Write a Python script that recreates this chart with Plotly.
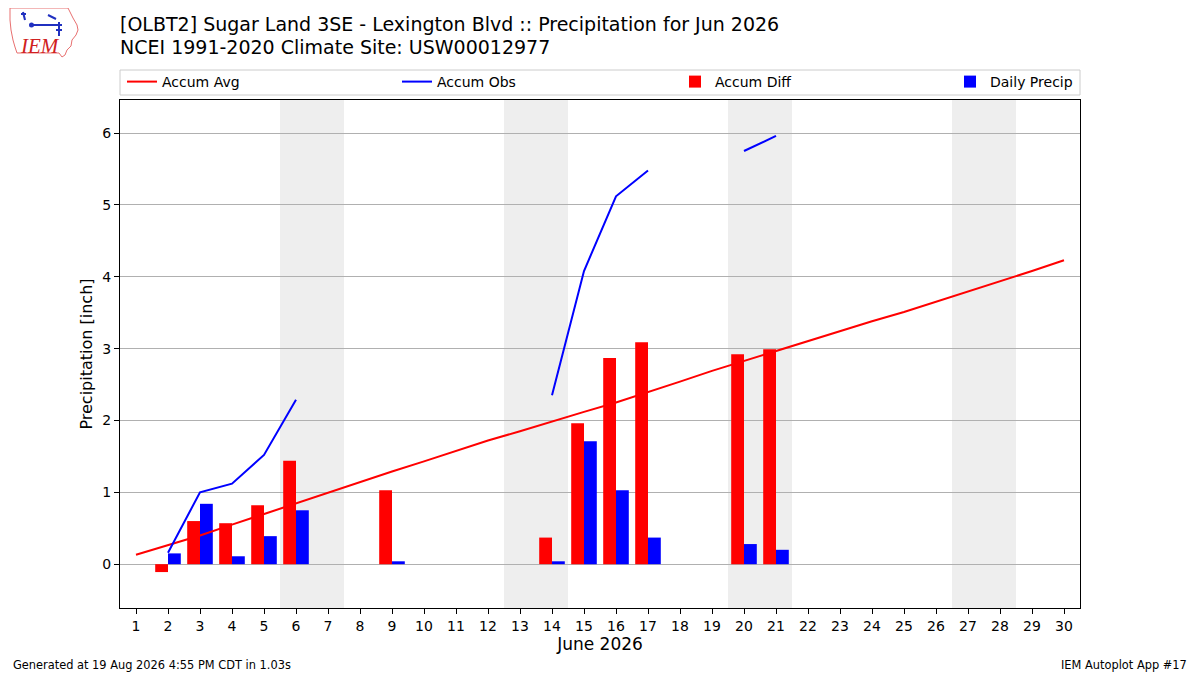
import plotly.graph_objects as go

# June 2026 daily data (inches), None = missing
days = list(range(1, 31))
accum_avg = [0.13, 0.26, 0.40, 0.55, 0.70, 0.85, 0.99, 1.14, 1.29, 1.43,
             1.58, 1.72, 1.85, 1.99, 2.12, 2.25, 2.39, 2.54, 2.69, 2.83,
             2.97, 3.11, 3.24, 3.38, 3.51, 3.65, 3.79, 3.93, 4.08, 4.23]
accum_obs = [None, 0.16, 1.00, 1.12, 1.52, 2.29, None, None, 2.33, None,
             None, None, None, 2.35, 4.08, 5.12, 5.48, None, None, 5.75,
             5.96, None, None, None, None, None, None, None, None, None]
accum_diff = [None, -0.11, 0.60, 0.57, 0.82, 1.44, None, None, 1.03, None,
              None, None, None, 0.37, 1.96, 2.87, 3.09, None, None, 2.92,
              2.99, None, None, None, None, None, None, None, None, None]
daily_precip = [None, 0.15, 0.84, 0.11, 0.39, 0.75, None, None, 0.04, None,
                None, None, None, 0.04, 1.71, 1.03, 0.37, None, None, 0.28,
                0.20, None, None, None, None, None, None, None, None, None]
weekends = [(6, 7), (13, 14), (20, 21), (27, 28)]

title_line1 = "[OLBT2] Sugar Land 3SE - Lexington Blvd :: Precipitation for Jun 2026"
title_line2 = "NCEI 1991-2020 Climate Site: USW00012977"
footer_left = "Generated at 19 Aug 2026 4:55 PM CDT in 1.03s"
footer_right = "IEM Autoplot App #17"

# the page body adds an 8px margin, so the figure is drawn 8px smaller
OFF = 8
W, H = 1200 - OFF, 675 - OFF
# plot area in page pixels: x 120..1080, y 100..608
PX0, PX1, PY0, PY1 = 120, 1080, 100, 608
L, T = PX0 - OFF, PY0 - OFF
R, B = W - (PX1 - OFF), H - (PY1 - OFF)
FONT = "DejaVu Sans"


def px(X):
    return (X - PX0) / (PX1 - PX0)


def py(Y):
    return (PY1 - Y) / (PY1 - PY0)


fig = go.Figure()
fig.add_trace(go.Scatter(x=days, y=accum_avg, mode="lines", name="Accum Avg",
                         line=dict(color="red", width=2), legend="legend"))
fig.add_trace(go.Scatter(x=days, y=accum_obs, mode="lines", name="Accum Obs",
                         line=dict(color="blue", width=2), connectgaps=False,
                         legend="legend2"))
fig.add_trace(go.Bar(x=days, y=accum_diff, name="Accum Diff", marker_color="red",
                     marker_line_width=0, width=0.4, offset=-0.4, legend="legend3"))
fig.add_trace(go.Bar(x=days, y=daily_precip, name="Daily Precip", marker_color="blue",
                     marker_line_width=0, width=0.4, offset=0, legend="legend4"))

for a, b in weekends:
    fig.add_vrect(x0=a - 0.5, x1=b + 0.5, fillcolor="#EEEEEE", line_width=0,
                  layer="below")

# legend frame
fig.add_shape(type="rect", xref="paper", yref="paper", x0=px(120), x1=px(1080),
              y0=py(95), y1=py(70), line=dict(color="#cccccc", width=1),
              fillcolor="white", layer="below")

# IEM logo (approximate)
iowa = [(10, 8), (68, 8), (70, 12), (73, 18), (77, 25), (78, 30), (76, 35),
        (72, 40), (71, 46), (67, 50), (65, 55), (62, 57), (59, 53), (17, 53),
        (15, 47), (13, 40), (11, 30), (10, 20)]
path = "M " + " L ".join(f"{px(x):.5f},{py(y):.5f}" for x, y in iowa) + " Z"
fig.add_shape(type="path", xref="paper", yref="paper", path=path,
              line=dict(color="#e87070", width=1))
for (x0, y0, x1, y1) in [(31, 25, 62, 25), (23, 12, 25, 20), (21, 14, 26, 14),
                         (48, 15, 56, 19), (59, 22, 59, 36), (56, 30, 62, 30)]:
    fig.add_shape(type="line", xref="paper", yref="paper", x0=px(x0), y0=py(y0),
                  x1=px(x1), y1=py(y1), line=dict(color="#2030c0", width=2))
fig.add_shape(type="circle", xref="paper", yref="paper", x0=px(29), x1=px(34),
              y0=py(27.5), y1=py(22.5), fillcolor="#2030c0", line_width=0)
fig.add_annotation(text="<i>IEM</i>", xref="paper", yref="paper", x=px(40), y=py(46),
                   xanchor="center", yanchor="middle", showarrow=False,
                   font=dict(family="Liberation Serif", size=21, color="#d02020"))

# title lines
fig.add_annotation(text=title_line1, xref="paper", yref="paper", x=px(118), y=py(24),
                   xanchor="left", yanchor="middle", showarrow=False,
                   font=dict(family=FONT, size=19, color="black"))
fig.add_annotation(text=title_line2, xref="paper", yref="paper", x=px(118), y=py(47),
                   xanchor="left", yanchor="middle", showarrow=False,
                   font=dict(family=FONT, size=19, color="black"))

fig.add_annotation(text=footer_left, xref="paper", yref="paper", x=px(11), y=py(665),
                   xanchor="left", yanchor="middle", showarrow=False,
                   font=dict(family=FONT, size=11.4, color="black"))
fig.add_annotation(text=footer_right, xref="paper", yref="paper", x=px(1189), y=py(665),
                   xanchor="right", yanchor="middle", showarrow=False,
                   font=dict(family=FONT, size=11.4, color="black"))

legend_style = dict(orientation="h", xanchor="left", y=py(82), yanchor="middle",
                    bgcolor="rgba(0,0,0,0)", borderwidth=0,
                    font=dict(family=FONT, size=14, color="black"))

fig.update_layout(
    width=W, height=H,
    margin=dict(l=L, r=R, t=T, b=B, pad=0),
    paper_bgcolor="white", plot_bgcolor="white",
    font=dict(family=FONT, size=14, color="black"),
    barmode="overlay",
    showlegend=True,
    legend=dict(x=px(125 - 3), **legend_style),
    legend2=dict(x=px(400 - 3), **legend_style),
    legend3=dict(x=px(676 - 1), **legend_style),
    legend4=dict(x=px(951 - 1), **legend_style),
    xaxis=dict(range=[0.5, 30.5], tickvals=days, ticktext=[str(d) for d in days],
               showgrid=False, zeroline=False, showline=True, linecolor="black",
               linewidth=1, mirror=True, ticks="outside", ticklen=5, tickcolor="black",
               title=dict(text="June 2026", font=dict(size=17), standoff=4)),
    yaxis=dict(range=[-0.61, 6.46], tickvals=[0, 1, 2, 3, 4, 5, 6],
               showgrid=True, gridcolor="#b0b0b0", gridwidth=1, zeroline=False,
               showline=True, linecolor="black", linewidth=1, mirror=True,
               ticks="outside", ticklen=5, tickcolor="black",
               title=dict(text="Precipitation [inch]", font=dict(size=16), standoff=5)),
)

fig.write_html("out.html")
